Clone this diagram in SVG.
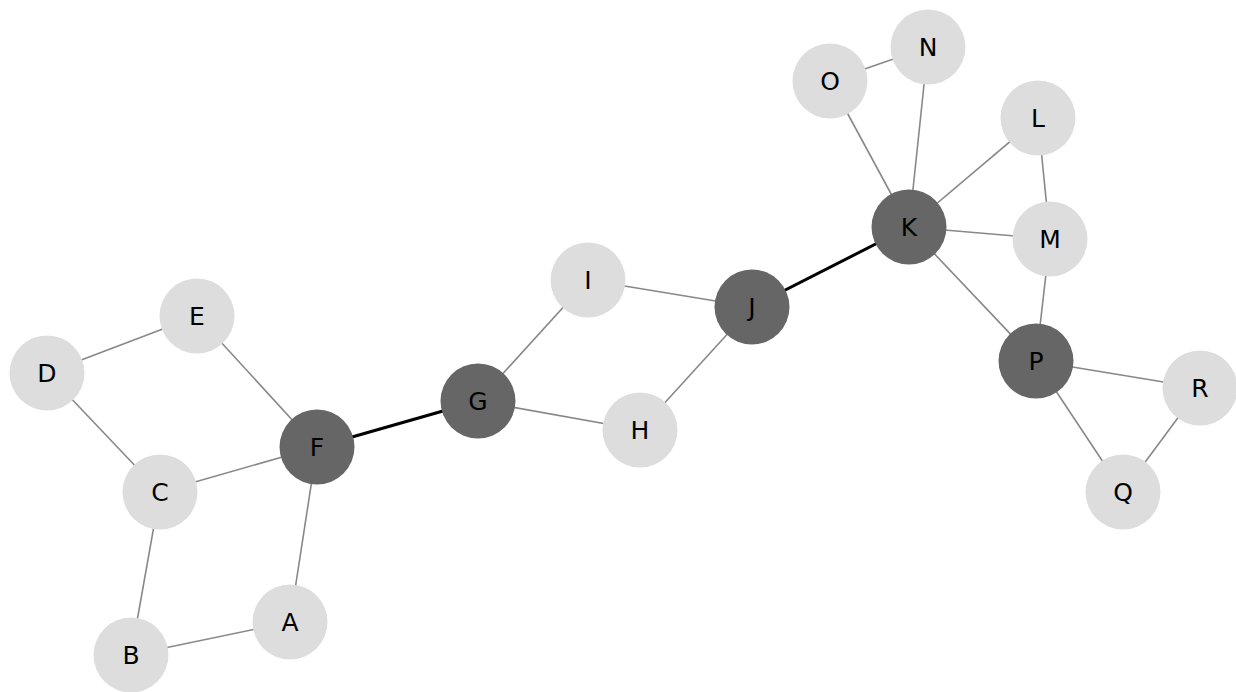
<svg xmlns="http://www.w3.org/2000/svg" width="1236" height="692" viewBox="0 0 1236 692">
<style>
.e{stroke:#888;stroke-width:1.6;fill:none}
.t{stroke:#000;stroke-width:3;fill:none}
.l{fill:#dddddd}
.d{fill:#666666}
text{font-family:"DejaVu Sans",sans-serif;font-size:25px;fill:#000;text-anchor:middle;dominant-baseline:central}
</style>
<rect width="1236" height="692" fill="#fff"/>
<g id="edges">
<line class="e" x1="290" y1="622" x2="131" y2="655"/>
<line class="e" x1="290" y1="622" x2="317" y2="447"/>
<line class="e" x1="131" y1="655" x2="160" y2="492"/>
<line class="e" x1="160" y1="492" x2="47" y2="373"/>
<line class="e" x1="160" y1="492" x2="317" y2="447"/>
<line class="e" x1="47" y1="373" x2="197" y2="316"/>
<line class="e" x1="197" y1="316" x2="317" y2="447"/>
<line class="t" x1="317" y1="447" x2="478" y2="401"/>
<line class="e" x1="478" y1="401" x2="588" y2="280"/>
<line class="e" x1="478" y1="401" x2="640" y2="430"/>
<line class="e" x1="588" y1="280" x2="752" y2="307"/>
<line class="e" x1="640" y1="430" x2="752" y2="307"/>
<line class="t" x1="752" y1="307" x2="909" y2="227"/>
<line class="e" x1="909" y1="227" x2="830" y2="81"/>
<line class="e" x1="909" y1="227" x2="928" y2="47"/>
<line class="e" x1="830" y1="81" x2="928" y2="47"/>
<line class="e" x1="909" y1="227" x2="1038" y2="118"/>
<line class="e" x1="909" y1="227" x2="1050" y2="239"/>
<line class="e" x1="1038" y1="118" x2="1050" y2="239"/>
<line class="e" x1="909" y1="227" x2="1036" y2="361"/>
<line class="e" x1="1050" y1="239" x2="1036" y2="361"/>
<line class="e" x1="1036" y1="361" x2="1200" y2="388"/>
<line class="e" x1="1036" y1="361" x2="1123" y2="492"/>
<line class="e" x1="1200" y1="388" x2="1123" y2="492"/>
</g>
<g id="A"><circle class="l" cx="290" cy="622" r="37.5"/><text x="290" y="622">A</text></g>
<g id="B"><circle class="l" cx="131" cy="655" r="37.5"/><text x="131" y="655">B</text></g>
<g id="C"><circle class="l" cx="160" cy="492" r="37.5"/><text x="160" y="492">C</text></g>
<g id="D"><circle class="l" cx="47" cy="373" r="37.5"/><text x="47" y="373">D</text></g>
<g id="E"><circle class="l" cx="197" cy="316" r="37.5"/><text x="197" y="316">E</text></g>
<g id="F"><circle class="d" cx="317" cy="447" r="37.5"/><text x="317" y="447">F</text></g>
<g id="G"><circle class="d" cx="478" cy="401" r="37.5"/><text x="478" y="401">G</text></g>
<g id="H"><circle class="l" cx="640" cy="430" r="37.5"/><text x="640" y="430">H</text></g>
<g id="I"><circle class="l" cx="588" cy="280" r="37.5"/><text x="588" y="280">I</text></g>
<g id="J"><circle class="d" cx="752" cy="307" r="37.5"/><text x="752" y="307">J</text></g>
<g id="K"><circle class="d" cx="909" cy="227" r="37.5"/><text x="909" y="227">K</text></g>
<g id="L"><circle class="l" cx="1038" cy="118" r="37.5"/><text x="1038" y="118">L</text></g>
<g id="M"><circle class="l" cx="1050" cy="239" r="37.5"/><text x="1050" y="239">M</text></g>
<g id="N"><circle class="l" cx="928" cy="47" r="37.5"/><text x="928" y="47">N</text></g>
<g id="O"><circle class="l" cx="830" cy="81" r="37.5"/><text x="830" y="81">O</text></g>
<g id="P"><circle class="d" cx="1036" cy="361" r="37.5"/><text x="1036" y="361">P</text></g>
<g id="Q"><circle class="l" cx="1123" cy="492" r="37.5"/><text x="1123" y="492">Q</text></g>
<g id="R"><circle class="l" cx="1200" cy="388" r="37.5"/><text x="1200" y="388">R</text></g>
</svg>
